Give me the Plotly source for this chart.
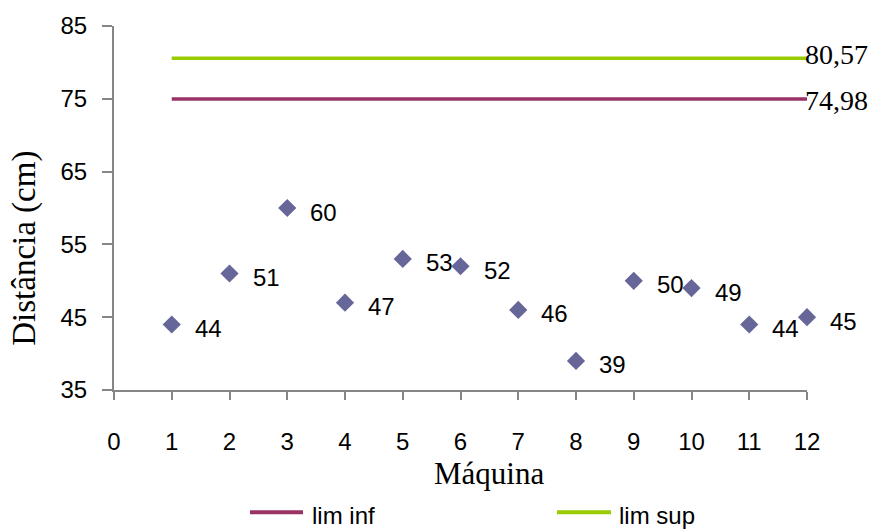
import plotly.graph_objects as go

# Distance measured on each machine, with lower / upper limits
maquinas = [1, 2, 3, 4, 5, 6, 7, 8, 9, 10, 11, 12]
distancia = [44, 51, 60, 47, 53, 52, 46, 39, 50, 49, 44, 45]
lim_inf = 74.98
lim_sup = 80.57
lim_labels = ["74,98", "80,57"]

x_ticks = list(range(0, 13))
y_ticks = [35, 45, 55, 65, 75, 85]

W, H = 872, 531
L, R, T, B = 114, 65, 24, 141
PW, PH = W - L - R, H - T - B


def px(x):
    return (x - L) / PW


def py(y):
    return (H - B - y) / PH


C_PTS = "#666699"
C_INF = "#993366"
C_SUP = "#99CC00"
AXIS = "#868686"
SANS = "Liberation Sans, Arial, sans-serif"
SERIF = "Liberation Serif, Times New Roman, serif"

fig = go.Figure()

fig.add_trace(go.Scatter(
    x=maquinas, y=[lim_inf] * len(maquinas), mode="lines",
    line=dict(color=C_INF, width=3.5), name="lim inf", showlegend=False,
    cliponaxis=False,
))
fig.add_trace(go.Scatter(
    x=maquinas, y=[lim_sup] * len(maquinas), mode="lines",
    line=dict(color=C_SUP, width=3.5), name="lim sup", showlegend=False,
    cliponaxis=False,
))
fig.add_trace(go.Scatter(
    x=maquinas, y=distancia, mode="markers",
    marker=dict(symbol="diamond", size=14, color=C_PTS, line=dict(width=0)),
    name="Distância", showlegend=False, cliponaxis=False,
))

annotations = []
# value labels beside each point
for xv, yv in zip(maquinas, distancia):
    annotations.append(dict(
        x=xv, y=yv, xref="x", yref="y", text=str(yv), showarrow=False,
        xanchor="left", yanchor="middle", xshift=21, yshift=-4,
        font=dict(family=SANS, size=24, color="black"),
    ))

# limit values at the end of each line
for val, lab, ys in [(lim_sup, lim_labels[1], 4), (lim_inf, lim_labels[0], -2)]:
    annotations.append(dict(
        x=maquinas[-1], y=val, xref="x", yref="y", text=lab, showarrow=False,
        xanchor="left", yanchor="middle", xshift=-4, yshift=ys,
        font=dict(family=SERIF, size=28, color="black"),
    ))

# axis titles
annotations.append(dict(
    x=px(489), y=py(474), xref="paper", yref="paper", text="Máquina",
    showarrow=False, xanchor="center", yanchor="middle",
    font=dict(family=SERIF, size=31, color="black"),
))
annotations.append(dict(
    x=px(25), y=py(248), xref="paper", yref="paper", text="Distância (cm)",
    showarrow=False, xanchor="center", yanchor="middle", textangle=-90,
    font=dict(family=SERIF, size=33, color="black"),
))

# legend
shapes = []
legend_items = [("lim inf", C_INF, 250, 303, 310), ("lim sup", C_SUP, 557, 611, 617)]
for name, col, x0, x1, xt in legend_items:
    shapes.append(dict(
        type="line", xref="paper", yref="paper",
        x0=px(x0), x1=px(x1), y0=py(513), y1=py(513),
        line=dict(color=col, width=4),
    ))
    annotations.append(dict(
        x=px(xt), y=py(516), xref="paper", yref="paper", text=name,
        showarrow=False, xanchor="left", yanchor="middle",
        font=dict(family=SANS, size=24, color="black"),
    ))

fig.update_layout(
    width=W, height=H,
    margin=dict(l=L, r=R, t=T, b=B),
    paper_bgcolor="white", plot_bgcolor="white",
    showlegend=False,
    annotations=annotations,
    shapes=shapes,
    xaxis=dict(
        range=[0, 12], tickvals=x_ticks, ticktext=[str(v) for v in x_ticks],
        showgrid=False, zeroline=False,
        showline=True, linecolor=AXIS, linewidth=2,
        ticks="outside", ticklen=8, tickwidth=2, tickcolor=AXIS,
        tickfont=dict(family=SANS, size=24, color="black"),
        ticklabelstandoff=21,
    ),
    yaxis=dict(
        range=[35, 85], tickvals=y_ticks,
        showgrid=False, zeroline=False,
        showline=True, linecolor=AXIS, linewidth=2,
        ticks="outside", ticklen=10, tickwidth=2, tickcolor=AXIS,
        tickfont=dict(family=SANS, size=24, color="black"),
        ticklabelstandoff=10,
    ),
)

fig.write_html("out.html")
